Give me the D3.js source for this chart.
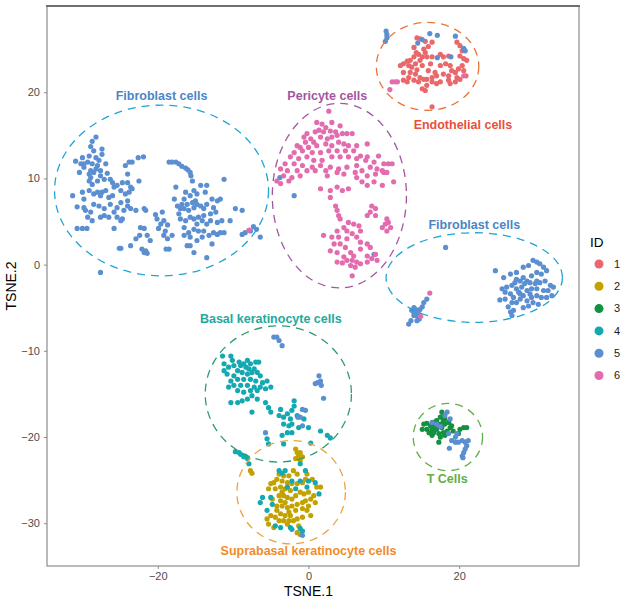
<!DOCTYPE html>
<html>
<head>
<meta charset="utf-8">
<script src="https://cdn.jsdelivr.net/npm/d3@7"></script>
<style>
  body { margin: 0; background: #fff; }
  svg { display: block; font-family: "Liberation Sans", Arial, sans-serif; }
</style>
</head>
<body>
<script>
// t-SNE coordinates, one array per cluster ID, [TSNE.1, TSNE.2]
var id1 = [ // endothelial (red)
  [14.4,26.3],[14.8,26.2],[15.5,25.9],[16.4,25.8],[15.9,25.3],[15.3,25.0],[14.0,25.2],[14.3,24.6],
  [14.6,24.4],[15.1,24.1],[15.5,24.6],[15.7,24.1],[14.0,24.1],[13.5,23.7],[13.1,23.6],[12.6,23.3],
  [12.2,23.1],[13.3,23.1],[14.2,23.3],[14.8,23.7],[15.1,23.1],[16.2,23.3],[17.5,24.4],[17.9,24.1],
  [18.6,24.2],[18.2,23.3],[17.5,23.1],[18.8,23.1],[19.7,25.8],[20.1,25.4],[20.4,24.8],[20.1,24.2],
  [20.6,23.9],[21.0,23.7],[20.4,23.1],[19.9,22.7],[19.5,22.3],[19.0,22.5],[19.7,21.7],[20.1,21.5],
  [19.5,21.2],[18.8,21.0],[18.6,21.9],[17.9,22.1],[17.0,21.9],[16.4,21.7],[15.7,21.5],[14.8,21.7],
  [14.2,22.1],[13.5,22.3],[13.3,21.7],[12.6,21.4],[13.1,21.2],[14.0,21.4],[14.6,21.2],[15.3,21.5],
  [15.7,20.8],[15.1,20.4],[15.5,20.2],[16.4,21.2],[17.0,21.0],[17.5,21.2],[18.6,21.4],[20.6,22.5],
  [20.9,21.9],[16.8,22.3],[15.9,22.5],[14.4,22.6],[13.7,22.9],[12.6,22.3],[16.4,18.3],[16.4,24.1]
];
var id2 = [ // suprabasal keratinocyte (mustard)
  [-1.7,-21.4],[-1.5,-21.8],[-1.1,-21.8],[-1.3,-22.2],[-0.8,-22.3],[-1.1,-22.7],[-1.7,-22.5],[-7.7,-23.9],
  [-7.5,-24.2],[-3.9,-24.3],[-3.3,-24.5],[-2.6,-24.5],[-2.0,-23.9],[-1.5,-24.3],[-0.2,-24.3],[0.5,-24.9],
  [-0.4,-24.9],[-0.8,-25.3],[-1.5,-25.4],[-2.2,-25.4],[-2.8,-25.3],[-3.5,-25.1],[-4.2,-24.9],[-4.6,-25.3],
  [-5.0,-25.4],[-5.3,-26.0],[-4.4,-26.0],[-3.7,-25.8],[-3.1,-26.0],[-2.4,-26.2],[-3.5,-26.4],[-3.9,-26.8],
  [-3.3,-26.8],[-2.8,-27.0],[-3.7,-27.4],[-3.1,-27.6],[-3.5,-28.0],[-4.2,-28.0],[-2.8,-28.2],[-2.2,-28.0],
  [-1.5,-27.8],[-0.8,-27.6],[-0.4,-27.4],[0.3,-27.2],[0.7,-26.8],[1.1,-25.8],[0.0,-26.4],[-0.6,-26.6],
  [-1.1,-26.4],[-1.7,-26.8],[-2.2,-27.2],[-2.6,-28.7],[-2.4,-29.1],[-3.1,-29.1],[-3.7,-28.9],[-4.2,-28.5],
  [-4.4,-29.3],[-5.0,-29.1],[-5.5,-29.5],[-5.3,-30.1],[-3.9,-29.7],[-3.3,-29.7],[-2.6,-29.7],[-2.0,-29.7],
  [-1.5,-29.5],[-0.8,-29.3],[-0.2,-28.5],[-1.7,-28.5],[-0.8,-28.3],[0.3,-29.1],[0.0,-28.0],[-2.8,-30.1],
  [-1.3,-30.3],[-1.5,-31.1],[-1.1,-31.3],[-4.6,-30.5],[-4.8,-27.2],[1.6,-25.8],[0.9,-27.6]
];
var id3 = [ // T cells (green)
  [17.7,-17.1],[17.9,-17.5],[17.5,-17.7],[18.1,-17.9],[17.0,-18.1],[16.6,-18.3],[15.7,-18.4],[15.3,-18.5],
  [16.2,-18.7],[16.8,-18.7],[17.5,-18.5],[18.1,-18.5],[18.6,-18.3],[17.7,-18.9],[17.0,-19.1],[16.4,-19.1],
  [15.7,-19.1],[15.1,-19.1],[16.0,-19.5],[16.6,-19.5],[17.3,-19.6],[17.9,-19.5],[18.4,-19.3],[18.8,-18.9],
  [19.2,-19.3],[16.4,-19.8],[17.5,-20.0],[18.1,-19.8],[17.3,-20.6],[19.9,-19.6],[20.1,-19.1],[20.6,-18.9],
  [21.0,-18.9],[19.0,-18.7],[17.9,-18.1]
];
var id4 = [ // basal keratinocyte (teal)
  [-11.4,-10.6],[-10.3,-10.6],[-10.1,-11.1],[-11.2,-11.5],[-10.6,-11.9],[-9.9,-11.7],[-9.2,-11.3],[-9.0,-11.7],
  [-8.6,-11.5],[-8.1,-11.1],[-7.7,-11.5],[-7.0,-11.3],[-6.6,-11.3],[-8.3,-11.9],[-7.9,-12.1],[-7.2,-12.1],
  [-7.5,-12.5],[-6.8,-12.5],[-6.4,-12.9],[-8.1,-12.7],[-8.8,-12.5],[-9.4,-12.3],[-9.9,-12.9],[-10.8,-12.7],
  [-11.2,-12.3],[-10.3,-13.5],[-9.4,-13.3],[-8.6,-13.3],[-7.7,-13.3],[-7.0,-13.5],[-6.1,-13.7],[-5.5,-13.5],
  [-5.0,-14.2],[-5.7,-14.4],[-6.4,-14.2],[-7.2,-14.2],[-8.1,-14.0],[-9.0,-14.0],[-9.9,-14.0],[-10.6,-14.2],
  [-9.4,-14.6],[-8.6,-14.8],[-7.7,-14.6],[-6.8,-14.6],[-7.5,-15.2],[-8.1,-15.6],[-8.8,-15.8],[-9.4,-16.0],
  [-10.3,-16.0],[-6.8,-15.6],[-5.7,-16.0],[-5.3,-16.6],[-7.5,-17.1],[-5.0,-17.1],[-3.7,-16.8],[-3.9,-17.5],
  [-3.3,-17.7],[-2.8,-17.3],[-2.2,-16.9],[-1.9,-15.8],[-1.9,-16.4],[-2.4,-17.9],[-1.5,-17.5],[-0.6,-17.9],
  [-9.7,-21.7],[-9.2,-21.8],[-9.0,-22.0],[-8.6,-22.3],[-8.4,-22.2],[-8.1,-22.5],[-7.9,-23.1],[-3.3,-18.5],
  [-2.6,-18.7],[-2.2,-18.5],[-2.8,-19.5],[-2.2,-19.5],[-1.3,-18.9],[0.0,-18.9],[1.6,-19.3],[2.5,-19.8],
  [2.9,-20.1],[-3.5,-19.8],[-3.3,-20.8],[0.3,-20.7],[-5.5,-20.2],[-5.3,-20.8],[-3.9,-23.9],[-3.5,-24.2],
  [-3.1,-23.9],[-1.1,-23.1],[-0.4,-23.9],[-2.2,-25.1],[-1.1,-25.1],[0.0,-25.1],[0.9,-25.3],[-0.2,-25.8],
  [-1.7,-26.0],[-2.8,-25.8],[-5.0,-27.0],[-6.1,-27.0],[-6.4,-27.6],[-4.8,-27.8],[-5.5,-28.5],[1.4,-26.6],
  [-2.4,-30.5],[-2.2,-30.7],[-3.7,-30.5],[-1.1,-30.6],[-0.8,-30.9],[-4.4,-30.3]
];
var id5 = [ // fibroblasts and stray cells (blue)
  // left fibroblast cloud
  [-28.2,14.8],[-28.7,14.3],[-28.9,13.7],[-28.5,13.2],[-27.4,13.4],[-27.4,12.8],[-30.0,12.4],[-30.9,12.0],
  [-29.1,12.6],[-28.2,12.4],[-27.8,12.1],[-29.3,11.9],[-28.7,11.7],[-28.0,11.5],[-29.8,11.3],[-30.4,10.7],
  [-28.9,10.9],[-28.5,10.7],[-29.1,10.5],[-28.2,11.1],[-27.6,10.9],[-26.9,11.7],[-28.9,10.1],[-28.0,9.7],
  [-27.1,9.9],[-26.3,9.9],[-26.7,10.6],[-29.8,11.7],[-30.2,11.7],[-27.6,10.3],[-29.1,9.7],[-28.7,9.3],
  [-31.3,8.0],[-30.0,8.4],[-29.8,7.6],[-29.1,8.6],[-28.5,8.2],[-28.0,8.4],[-27.4,8.4],[-26.9,8.6],
  [-27.6,8.0],[-26.5,7.8],[-26.0,8.0],[-25.8,9.0],[-25.4,9.2],[-24.9,8.6],[-26.0,9.5],[-30.7,6.7],
  [-29.8,6.6],[-29.6,6.3],[-28.9,6.1],[-28.5,7.0],[-27.8,6.8],[-27.1,6.5],[-29.3,5.5],[-28.7,5.1],
  [-27.6,5.5],[-27.1,5.7],[-26.5,5.5],[-25.8,6.1],[-26.3,7.0],[-25.4,6.6],[-24.9,7.2],[-24.5,6.3],
  [-24.0,6.8],[-23.6,6.5],[-22.9,6.3],[-25.4,5.5],[-24.7,5.3],[-24.0,7.4],[-24.3,8.2],[-23.8,8.4],
  [-23.6,9.0],[-24.0,9.5],[-24.7,9.5],[-23.4,8.8],[-24.0,10.5],[-24.3,11.5],[-23.8,11.9],[-23.4,11.9],
  [-22.6,12.4],[-21.9,12.5],[-22.5,9.7],[-24.9,5.1],[-30.7,4.2],[-30.0,4.2],[-29.4,4.2],[-25.8,4.2],
  [-22.3,4.3],[-21.8,4.2],[-22.4,3.4],[-21.4,3.4],[-21.0,2.8],[-22.9,3.0],[-23.6,2.2],[-24.9,1.9],
  [-25.1,1.9],[-22.1,1.8],[-21.8,1.4],[-21.4,1.3],[-21.6,1.6],[-27.6,-0.9],[-19.4,6.1],[-20.3,5.8],
  [-20.1,5.3],[-19.2,5.1],[-19.6,4.7],[-18.7,4.6],[-19.9,4.2],[-19.0,3.9],[-19.2,3.4],[-18.7,3.0],
  [-18.5,1.8],[-18.1,3.4],[-18.9,1.8],[-21.8,6.5],[-21.6,6.3],
  [-18.5,11.9],[-18.1,11.9],[-17.6,11.9],[-17.2,11.7],[-16.8,11.4],[-16.3,11.2],[-16.0,11.0],[-15.7,10.7],
  [-15.6,10.3],[-15.4,9.7],[-17.6,9.0],[-17.8,7.6],[-17.4,6.8],[-17.0,6.5],[-16.8,7.0],[-16.5,7.6],
  [-16.3,8.4],[-15.7,8.0],[-15.2,8.6],[-14.8,8.2],[-15.0,7.4],[-15.4,7.2],[-16.1,7.0],[-16.5,6.5],
  [-15.9,6.3],[-15.2,6.6],[-14.8,7.0],[-14.3,6.8],[-13.9,6.5],[-13.5,7.0],[-13.7,8.4],[-13.5,9.2],
  [-14.3,9.2],[-12.8,7.6],[-12.6,6.6],[-12.1,7.4],[-11.7,7.6],[-11.2,9.9],[-12.3,6.1],[-13.0,5.9],
  [-13.9,5.7],[-14.6,5.5],[-15.2,5.3],[-15.7,5.5],[-16.3,5.1],[-17.0,5.3],[-14.8,4.7],[-14.1,5.1],
  [-13.5,4.7],[-13.0,5.1],[-12.1,4.9],[-11.5,5.1],[-11.7,3.7],[-11.2,3.7],[-12.6,3.7],[-13.9,3.9],
  [-14.6,3.9],[-15.2,4.1],[-15.9,3.7],[-16.5,3.4],[-15.7,3.2],[-14.8,2.8],[-16.1,2.2],[-15.7,2.2],
  [-15.2,1.4],[-13.5,0.8],[-12.8,2.4],[-13.2,3.4],[-14.1,3.2],[-10.4,5.1],[-9.7,6.5],[-8.8,6.3],
  [-12.1,3.5],[-16.5,4.3],[-17.2,5.9],[-8.8,3.5],[-8.4,3.7],[-7.7,3.9],[-7.3,4.4],[-6.9,4.1],[-6.4,3.2],
  // right fibroblast cloud
  [18.2,2.0],[13.3,-6.9],[13.6,-6.5],[14.0,-5.9],[13.7,-5.3],[14.0,-5.0],[14.2,-5.2],[14.4,-5.5],
  [14.0,-5.6],[14.3,-5.9],[14.6,-5.7],[14.8,-5.2],[15.1,-4.9],[15.3,-4.4],[15.7,-4.0],[14.7,-6.3],
  [14.4,-6.5],[24.8,-0.7],[25.9,-1.5],[26.8,-1.1],[27.6,-0.9],[28.5,-1.5],[29.2,-0.1],[29.8,0.5],
  [30.3,0.3],[30.7,0.1],[31.2,-0.3],[31.6,-0.7],[30.9,-1.1],[30.3,-0.9],[29.6,-1.3],[29.0,-1.9],
  [28.1,-1.9],[27.4,-2.1],[27.0,-2.4],[26.3,-2.6],[25.7,-2.8],[26.1,-3.2],[26.8,-3.4],[25.4,-4.1],
  [26.1,-4.0],[27.2,-3.8],[27.9,-3.2],[28.3,-2.6],[28.7,-2.2],[29.4,-2.1],[30.1,-2.2],[30.7,-2.1],
  [31.4,-1.9],[32.1,-2.4],[32.5,-2.6],[31.8,-3.0],[31.2,-3.0],[30.3,-2.8],[29.6,-2.8],[29.0,-3.0],
  [28.5,-3.6],[28.1,-4.0],[27.6,-4.4],[27.0,-4.4],[26.5,-4.9],[27.2,-5.3],[29.0,-4.2],[29.6,-3.8],
  [30.3,-3.6],[30.9,-3.8],[31.6,-3.8],[32.3,-3.6],[29.8,-4.4],[30.5,-4.6],[28.5,-5.0],[29.2,-4.8],
  [28.1,-3.4],[27.6,-2.8],[29.4,-3.4],[27.0,-5.9],[26.8,-5.5],[30.3,-1.9],[28.5,-0.3],[27.6,-1.7],
  // strays in other clusters
  [10.3,27.1],[10.4,26.7],[10.4,26.3],[10.2,25.9],[16.1,26.8],[17.1,26.6],[19.5,26.5],[14.5,25.7],
  [15.1,26.1],[20.6,25.1],[20.8,24.8],[17.1,24.0],[18.9,24.1],
  [-3.8,10.1],[-1.9,8.0],[8.7,1.2],
  [-4.6,-8.4],[-4.2,-8.4],[-3.9,-8.8],[-3.5,-9.4],[1.4,-12.9],[1.2,-13.7],[1.6,-13.5],[0.9,-13.8],
  [1.7,-14.0],[2.0,-15.5],[-0.8,-16.8],[-1.4,-17.7],[-1.1,-17.7],[-0.4,-16.9],
  [-5.7,-19.5],[-0.8,-18.7],[-0.8,-31.4],
  [18.4,-17.1],[18.1,-17.5],[16.4,-18.3],[17.0,-18.5],[17.5,-18.8],[18.8,-17.9],[18.6,-19.6],[19.5,-20.0],
  [19.0,-20.4],[19.5,-20.6],[19.9,-20.6],[20.4,-20.4],[20.8,-20.6],[21.2,-20.4],[21.0,-21.0],[20.8,-21.4],
  [20.6,-21.8],[20.4,-22.2],[20.5,-22.4],[18.7,-21.3],[19.7,-19.6]
];
var id6 = [ // pericytes (pink)
  [2.7,17.8],[1.1,16.5],[1.8,16.3],[3.1,16.5],[4.2,16.1],[2.3,15.9],[1.4,15.6],[0.9,15.4],
  [2.0,15.4],[2.9,15.5],[3.6,15.4],[-0.2,15.2],[-0.6,14.8],[0.3,14.6],[-0.4,14.2],[0.7,14.2],
  [2.5,14.6],[3.1,14.8],[3.8,15.0],[4.5,15.2],[5.1,15.2],[5.8,15.2],[1.6,14.8],[-1.5,13.8],
  [-1.1,13.6],[0.0,13.6],[1.1,13.8],[2.3,14.0],[3.1,13.8],[4.0,14.2],[4.7,14.0],[5.3,13.8],
  [6.4,13.8],[7.8,14.0],[-1.9,13.0],[-0.8,13.2],[0.5,13.0],[1.6,13.0],[2.7,13.2],[3.8,13.2],
  [4.9,13.2],[6.0,13.2],[6.9,12.6],[7.8,12.5],[-2.4,12.5],[-1.3,12.3],[-0.2,12.5],[0.7,12.1],
  [1.8,12.1],[3.1,12.5],[4.2,12.5],[5.3,12.5],[6.4,12.3],[7.6,12.1],[9.3,12.6],[10.6,11.7],
  [11.1,11.7],[-3.1,11.7],[-1.9,11.7],[-0.8,11.5],[0.5,11.3],[1.6,11.5],[2.9,11.3],[4.0,11.1],
  [5.1,11.3],[6.4,11.5],[8.7,11.9],[10.0,11.7],[-3.7,11.1],[-2.8,10.9],[-1.5,10.9],[-0.2,10.9],
  [0.9,10.9],[2.3,10.9],[3.8,10.7],[4.7,10.5],[6.2,10.7],[7.1,10.9],[8.2,11.3],[9.1,11.1],
  [9.8,10.9],[10.4,10.7],[-4.2,9.7],[-3.3,10.3],[-2.2,10.1],[-1.1,10.3],[2.5,10.3],[6.4,10.1],
  [7.8,10.3],[8.9,10.5],[10.0,10.7],[-3.7,9.4],[-2.6,9.7],[11.3,9.6],[7.1,9.6],[7.8,9.2],
  [8.7,9.6],[9.8,9.2],[1.6,8.8],[2.9,8.6],[3.8,9.0],[4.5,8.6],[5.3,8.8],[2.9,7.8],
  [3.6,6.8],[3.8,6.3],[4.0,5.7],[4.2,5.3],[8.4,6.8],[8.9,6.5],[7.8,5.7],[8.9,5.7],
  [10.4,5.3],[10.6,4.9],[10.2,4.7],[10.9,4.3],[10.4,3.9],[9.8,4.3],[5.3,4.9],[6.0,4.7],
  [6.7,4.5],[4.7,4.3],[3.8,3.9],[5.1,3.9],[5.8,3.6],[6.9,3.9],[2.0,3.4],[3.1,3.2],
  [4.0,3.2],[5.1,3.0],[3.4,2.4],[4.2,2.4],[4.9,2.0],[2.9,1.6],[3.8,1.4],[6.4,3.2],
  [6.9,2.6],[7.8,2.4],[8.2,2.0],[8.9,1.2],[7.8,1.0],[8.4,0.7],[6.9,1.8],[5.6,1.4],
  [6.0,1.0],[4.7,0.9],[5.1,0.5],[5.8,0.5],[6.4,0.3],[3.8,0.3],[4.5,0.2],[5.6,-0.1],
  [6.2,-0.3],[6.9,0.1],[7.8,0.3],[9.1,0.5],[5.8,-1.3],[8.2,6.1],
  // strays
  [11.1,21.2],[11.5,21.2],[11.8,21.2],[20.6,21.9],[10.8,20.3],[-7.9,4.0],[16.1,-3.3],[14.9,-6.0]
];

var ids = ["1", "2", "3", "4", "5", "6"];
var idColors = ["#E8686C", "#C2A200", "#14913F", "#14A9B0", "#5B8FD0", "#E26CAE"];

// cell-type ellipses: centre, radii (data units), label position
var cellTypes = ["Fibroblast cells", "Pericyte cells", "Endothelial cells", "Fibroblast cells",
                 "Basal keratinocyte cells", "T Cells", "Suprabasal keratinocyte cells"];
var ellCx = [-19.5, 4.1, 15.8, 22.0, -4.0, 18.5, -2.3];
var ellCy = [8.6, 8.0, 23.0, -1.5, -15.0, -20.0, -26.4];
var ellRx = [14.2, 8.9, 6.8, 11.7, 9.7, 4.6, 7.2];
var ellRy = [9.9, 10.7, 5.1, 5.2, 7.9, 3.9, 6.0];
var labX = [-19.5, 2.5, 20.5, 22.0, -5.0, 18.4, 0.0];
var labY = [19.6, 19.6, 16.2, 4.6, -6.3, -24.8, -33.2];
var ellColors = ["#1FA5D5", "#A3569F", "#E8733C", "#1FA5D5", "#2E9B74", "#62AE48", "#EBA43C"];
var labColors = ["#4B86C6", "#A3569F", "#E8503C", "#4B86C6", "#25A89C", "#62AE48", "#F08C28"];

var xTicks = [-20, 0, 20],
    yTicks = [-30, -20, -10, 0, 10, 20];

var canvas = {w: 633, h: 598},
    margin = {top: 6, right: 54, bottom: 32, left: 47},
    width = canvas.w - margin.left - margin.right,
    height = canvas.h - margin.top - margin.bottom;

var svg = d3.select("body").append("svg")
    .attr("width", canvas.w)
    .attr("height", canvas.h);

var g = svg.append("g")
    .attr("transform", "translate(" + margin.left + "," + margin.top + ")");

var x = d3.scaleLinear().domain([-34.7, 35.9]).range([0, width]),
    y = d3.scaleLinear().domain([-34.96, 30.0]).range([height, 0]),
    z = d3.scaleOrdinal().domain(ids).range(idColors);

// points
var groups = [id1, id2, id3, id4, id5, id6];
groups.forEach(function(pts, i) {
    g.append("g").selectAll("circle")
        .data(pts)
        .enter().append("circle")
        .attr("cx", function(d) { return x(d[0]); })
        .attr("cy", function(d) { return y(d[1]); })
        .attr("r", 2.6)
        .attr("fill", z(ids[i]));
});

// dashed ellipses
g.append("g").selectAll("ellipse")
    .data(cellTypes)
    .enter().append("ellipse")
    .attr("cx", function(d, i) { return x(ellCx[i]); })
    .attr("cy", function(d, i) { return y(ellCy[i]); })
    .attr("rx", function(d, i) { return x(ellRx[i]) - x(0); })
    .attr("ry", function(d, i) { return y(0) - y(ellRy[i]); })
    .attr("fill", "none")
    .attr("stroke", function(d, i) { return ellColors[i]; })
    .attr("stroke-width", 1.3)
    .attr("stroke-dasharray", "8,6");

g.append("g").selectAll("text")
    .data(cellTypes)
    .enter().append("text")
    .attr("x", function(d, i) { return x(labX[i]); })
    .attr("y", function(d, i) { return y(labY[i]); })
    .attr("dy", "0.35em")
    .attr("text-anchor", "middle")
    .attr("font-size", 12.5)
    .attr("font-weight", "bold")
    .attr("fill", function(d, i) { return labColors[i]; })
    .text(function(d) { return d; });

// panel border
g.append("rect")
    .attr("width", width)
    .attr("height", height)
    .attr("fill", "none")
    .attr("stroke", "#8c8c8c")
    .attr("stroke-width", 1.2);
g.append("line")
    .attr("x1", -1).attr("x2", width + 1)
    .attr("stroke", "#6e6e6e")
    .attr("stroke-width", 2.2);

// axes
var minus = function(d) { return d < 0 ? "\u2212" + (-d) : d; };
var xAxis = g.append("g")
    .attr("transform", "translate(0," + height + ")")
    .call(d3.axisBottom(x).tickValues(xTicks).tickSize(3).tickPadding(3).tickFormat(minus));
var yAxis = g.append("g")
    .call(d3.axisLeft(y).tickValues(yTicks).tickSize(3).tickPadding(4).tickFormat(minus));
[xAxis, yAxis].forEach(function(a) {
    a.select(".domain").remove();
    a.selectAll("line").attr("stroke", "#8c8c8c");
    a.selectAll("text").attr("fill", "#4d4d4d").attr("font-size", 11)
        .attr("font-family", "Liberation Sans, Arial, sans-serif");
});

svg.append("text")
    .attr("x", margin.left + x(0))
    .attr("y", 596)
    .attr("text-anchor", "middle")
    .attr("font-size", 14)
    .attr("fill", "#000")
    .text("TSNE.1");

svg.append("text")
    .attr("transform", "translate(16," + (margin.top + height / 2) + ") rotate(-90)")
    .attr("text-anchor", "middle")
    .attr("font-size", 14)
    .attr("fill", "#000")
    .text("TSNE.2");

// legend
var legend = svg.append("g").attr("transform", "translate(590,242)");
legend.append("text")
    .attr("x", 0).attr("y", 5)
    .attr("font-size", 13.5)
    .attr("fill", "#000")
    .text("ID");
var item = legend.selectAll(".key")
    .data(ids)
    .enter().append("g")
    .attr("class", "key")
    .attr("transform", function(d, i) { return "translate(0," + (22 + i * 22.3) + ")"; });
item.append("circle")
    .attr("cx", 9).attr("cy", 0).attr("r", 4.5)
    .attr("fill", function(d) { return z(d); });
item.append("text")
    .attr("x", 24).attr("y", 0).attr("dy", "0.35em")
    .attr("font-size", 11)
    .attr("fill", "#1a1a1a")
    .text(function(d) { return d; });
</script>
</body>
</html>
